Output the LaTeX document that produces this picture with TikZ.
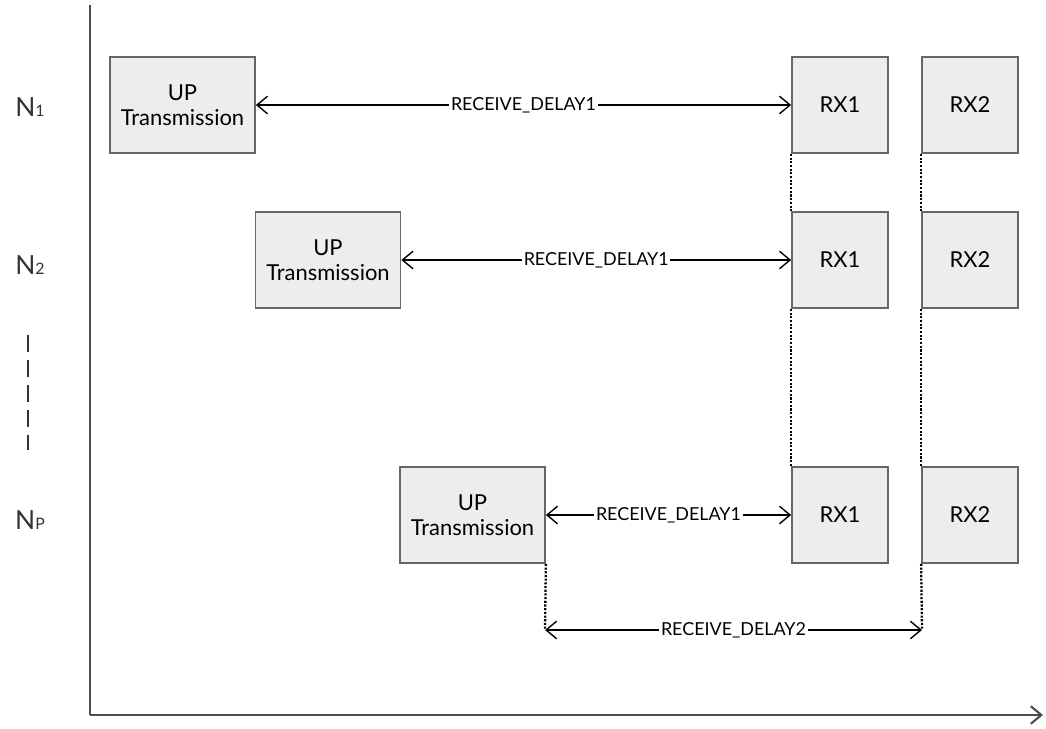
\documentclass[tikz,border=0pt]{standalone}
\usepackage{fontspec}
\setmainfont{Lato}
\usetikzlibrary{arrows.meta}

\tikzset{
  upbox/.style={draw=black!60, fill=black!7, line width=1pt, minimum width=2.9cm,
    minimum height=1.92cm, align=center, inner sep=0pt, font=\fontsize{12.5}{14.5}\selectfont},
  rxbox/.style={upbox, minimum width=1.92cm},
  delay/.style={fill=white, inner sep=1pt, font=\fontsize{10.2}{11}\selectfont},
  nlabel/.style={font=\fontsize{15}{16}\selectfont, text=black!80},
  window/.style={line width=1.3pt, dash pattern=on 1.2pt off 0.9pt},
}
\newcommand{\nsub}[1]{{\fontsize{9}{10}\selectfont #1}}

\begin{document}
\begin{tikzpicture}[x=0.02cm, y=-0.02cm, >={Straight Barb[length=6pt,width=10pt]}]
  \useasboundingbox (0,0) rectangle (1046,729);

  % axes
  \coordinate (o) at (90,715);
  \coordinate (ytop) at (90,5);
  \coordinate (xend) at (1043,715);
  \draw[black!70, line width=1.2pt] (ytop) -- (o);
  \draw[->, black!70, line width=1.2pt] (o) -- (xend);

  % node labels
  \node[nlabel] (n1) at (30,107) {N\nsub{1}};
  \node[nlabel] (n2) at (30,265) {N\nsub{2}};
  \node[nlabel] (np) at (30,520) {N\nsub{P}};
  \draw[black!80, line width=1.2pt, dash pattern=on 0.34cm off 0.16cm] (28,335) -- (28,450);

  % first node
  \node[upbox] (up1) at (182.5,105) {UP\\Transmission};
  \node[rxbox] (rx1a) at (840,105) {RX1};
  \node[rxbox] (rx2a) at (970,105) {RX2};
  \draw[<->, thick] (up1.east) -- (rx1a.west) node[delay, midway] {RECEIVE\_DELAY1};

  % second node
  \node[upbox] (up2) at (328,260) {UP\\Transmission};
  \node[rxbox] (rx1b) at (840,260) {RX1};
  \node[rxbox] (rx2b) at (970,260) {RX2};
  \draw[<->, thick] (up2.east) -- (rx1b.west) node[delay, midway] {RECEIVE\_DELAY1};

  % last node
  \node[upbox] (up3) at (472.5,515) {UP\\Transmission};
  \node[rxbox] (rx1c) at (840,515) {RX1};
  \node[rxbox] (rx2c) at (970,515) {RX2};
  \draw[<->, thick] (up3.east) -- (rx1c.west) node[delay, midway] {RECEIVE\_DELAY1};

  % receive windows line up
  \draw[window] (rx1a.south west) -- (rx1b.north west);
  \draw[window] (rx1b.south west) -- (rx1c.north west);
  \draw[window] (rx2a.south west) -- (rx2b.north west);
  \draw[window] (rx2b.south west) -- (rx2c.north west);

  % second delay
  \coordinate (d2a) at (545,630);
  \coordinate (d2b) at (922,630);
  \draw[window] (up3.south east) -- (d2a);
  \draw[window] (rx2c.south west) -- (d2b);
  \draw[<->, thick] (d2a) -- (d2b) node[delay, midway] {RECEIVE\_DELAY2};
\end{tikzpicture}
\end{document}
